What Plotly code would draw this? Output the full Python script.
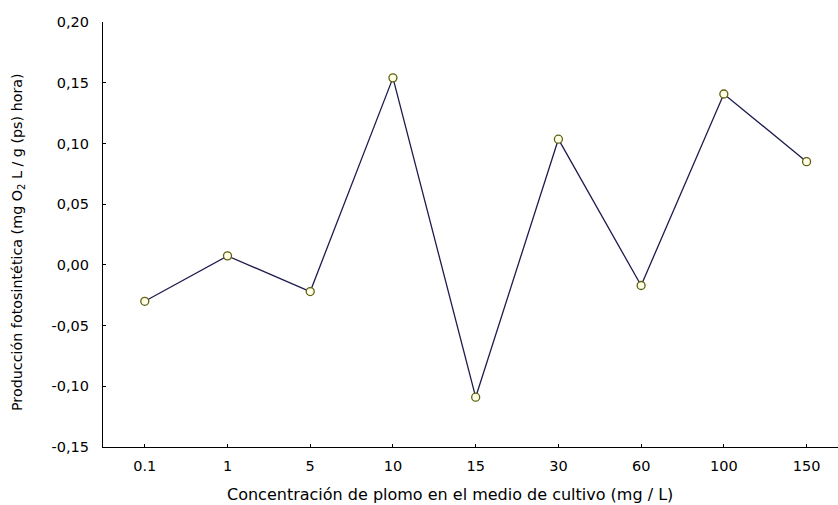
import plotly.graph_objects as go

categories = ["0.1", "1", "5", "10", "15", "30", "60", "100", "150"]
produccion = [-0.030, 0.0074, -0.022, 0.154, -0.109, 0.1035, -0.017, 0.1407, 0.085]
y_ticks = [-0.15, -0.10, -0.05, 0.00, 0.05, 0.10, 0.15, 0.20]
y_tick_labels = ["-0,15", "-0,10", "-0,05", "0,00", "0,05", "0,10", "0,15", "0,20"]

W, H = 838, 505
L, R, T, B = 103, 0, 22, 58
pw, ph = W - L - R, H - T - B

def px_x(x):
    return (x - L) / pw

def px_y(y):
    return (H - B - y) / ph

fig = go.Figure()
fig.add_trace(go.Scatter(
    x=list(range(len(categories))),
    y=produccion,
    mode="lines+markers",
    line=dict(color="#1c1c4e", width=1.3),
    marker=dict(symbol="circle", size=8, color="#ffffe8",
                line=dict(color="#5f5f10", width=1.3)),
    cliponaxis=False,
    showlegend=False,
))

tick_font = dict(family="DejaVu Sans, Verdana, sans-serif", size=14.5, color="#000")

fig.update_layout(
    width=W, height=H,
    margin=dict(l=L, r=R, t=T, b=B),
    paper_bgcolor="white", plot_bgcolor="white",
    font=dict(family="DejaVu Sans, Verdana, sans-serif", color="#000000", size=14),
    xaxis=dict(
        range=[-0.505, 8.38],
        tickmode="array",
        tickvals=list(range(len(categories))),
        ticktext=categories,
        ticks="inside", ticklen=3, tickcolor="#000", tickwidth=1,
        showline=True, linecolor="#000", linewidth=1.2,
        showgrid=False, zeroline=False,
        tickfont=tick_font,
        ticklabelstandoff=5,
    ),
    yaxis=dict(
        range=[-0.15, 0.20],
        tickmode="array",
        tickvals=y_ticks,
        ticktext=y_tick_labels,
        ticks="inside", ticklen=3, tickcolor="#000", tickwidth=1,
        showline=True, linecolor="#000", linewidth=1.2,
        showgrid=False, zeroline=False,
        tickfont=tick_font,
        ticklabelstandoff=10,
    ),
    annotations=[
        dict(text="Concentración de plomo en el medio de cultivo (mg / L)",
             xref="paper", yref="paper", x=px_x(450), y=px_y(494),
             xanchor="center", yanchor="middle", showarrow=False,
             font=dict(family="DejaVu Sans, Verdana, sans-serif", size=16, color="#000")),
        dict(text="Producción fotosintética (mg O<sub>2</sub> L / g (ps) hora)",
             xref="paper", yref="paper", x=px_x(18), y=px_y(242),
             xanchor="center", yanchor="middle", showarrow=False, textangle=-90,
             font=dict(family="DejaVu Sans, Verdana, sans-serif", size=14.3, color="#000")),
    ],
)

fig.write_html("out.html")
